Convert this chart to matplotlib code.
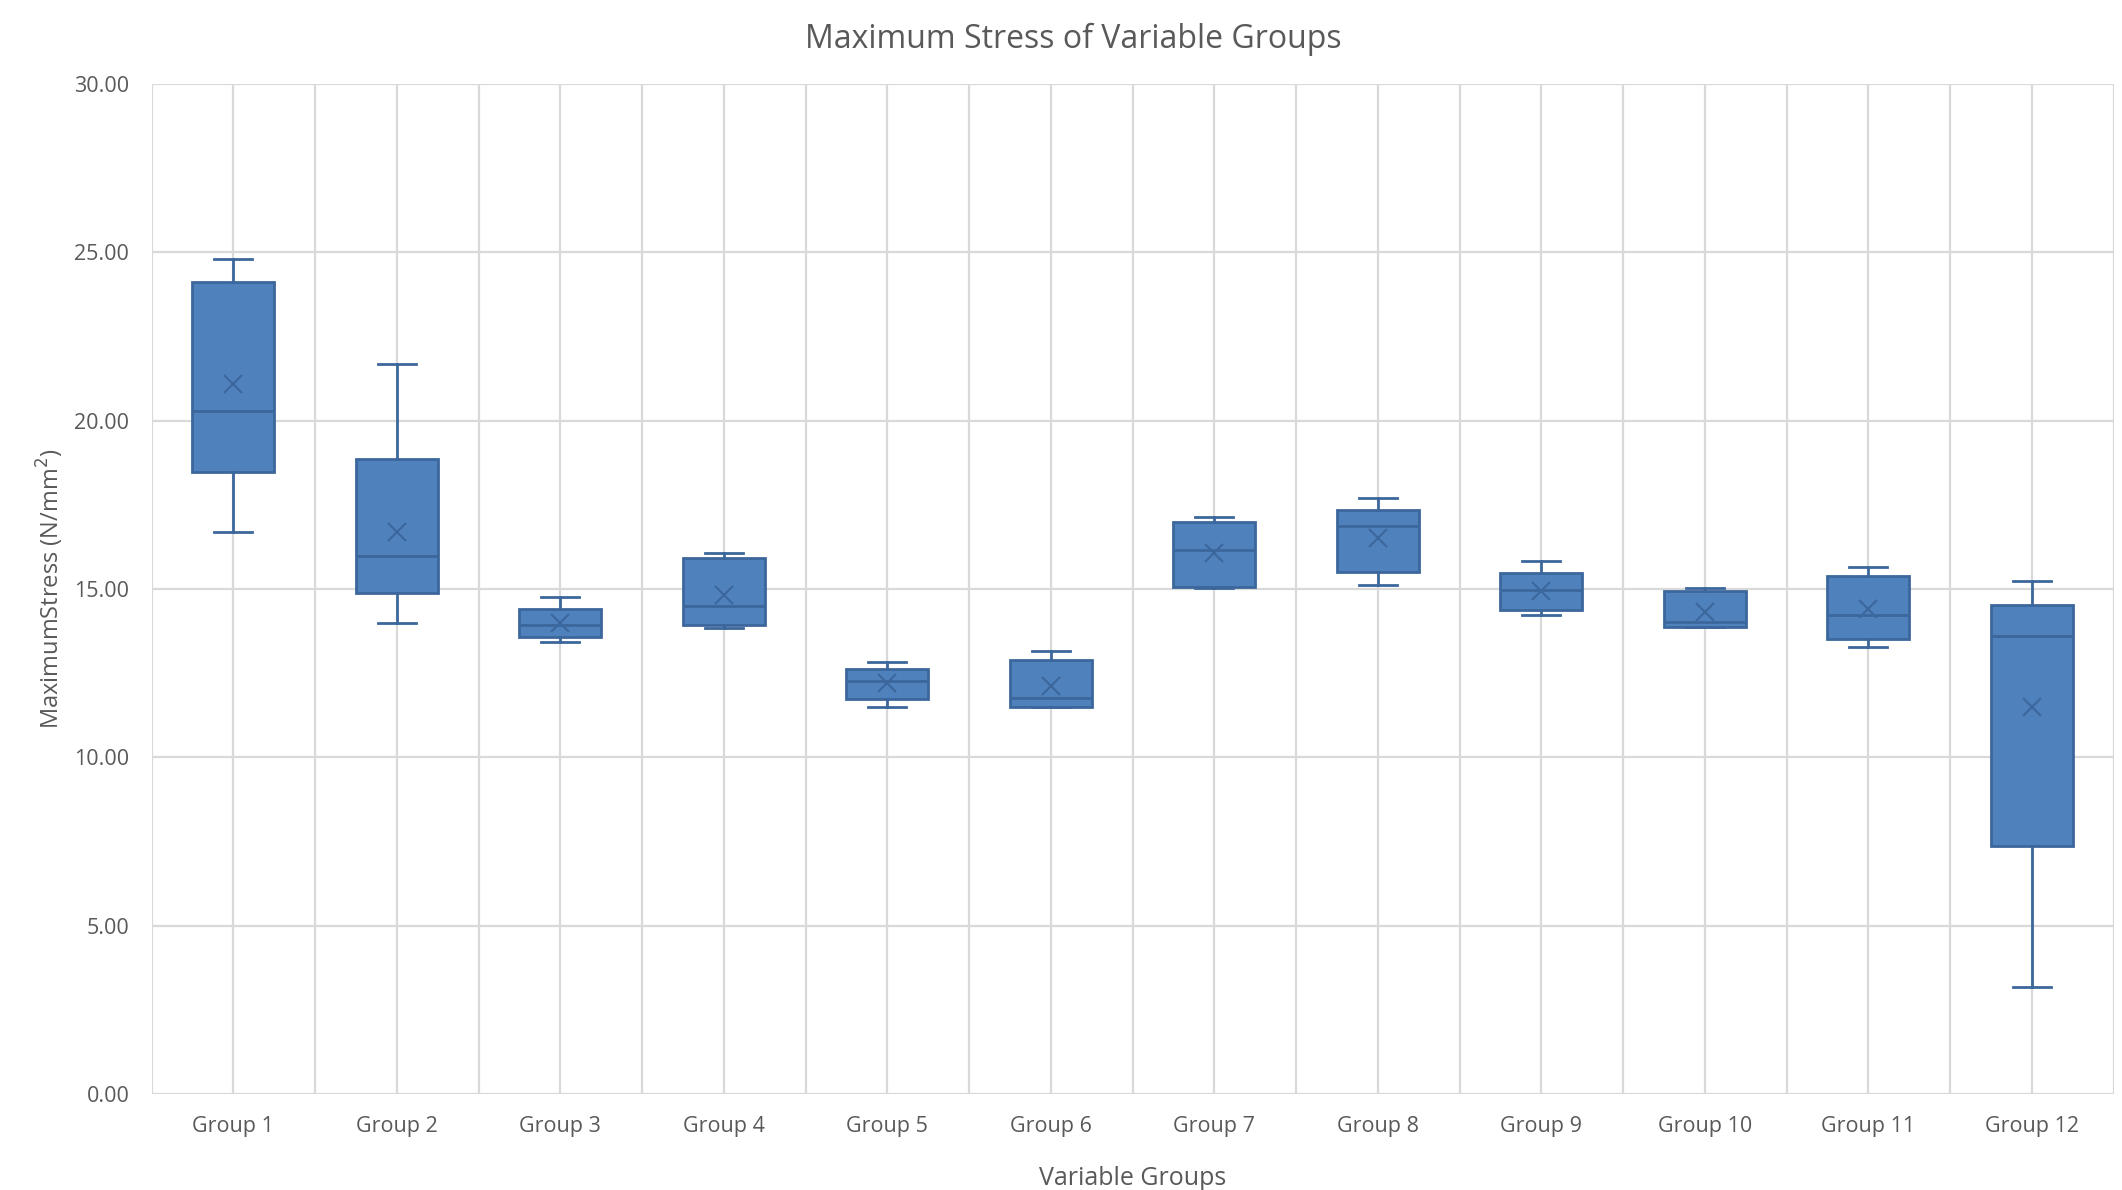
import matplotlib
matplotlib.use('Agg')
import matplotlib.pyplot as plt
import numpy as np

# values (N/mm^2)
groups = ['Group 1', 'Group 2', 'Group 3', 'Group 4', 'Group 5', 'Group 6',
          'Group 7', 'Group 8', 'Group 9', 'Group 10', 'Group 11', 'Group 12']
whisker_low = [16.70, 14.00, 13.43, 13.84, 11.49, 11.49, 15.02, 15.11, 14.22, 13.86, 13.27, 3.17]
q1 = [18.47, 14.89, 13.57, 13.92, 11.73, 11.49, 15.05, 15.51, 14.39, 13.88, 13.51, 7.36]
median = [20.30, 15.99, 13.93, 14.50, 12.26, 11.77, 16.17, 16.88, 14.98, 14.02, 14.22, 13.60]
q3 = [24.11, 18.86, 14.41, 15.91, 12.62, 12.90, 17.00, 17.36, 15.48, 14.95, 15.40, 14.53]
whisker_high = [24.80, 21.67, 14.76, 16.07, 12.84, 13.17, 17.15, 17.71, 15.84, 15.03, 15.65, 15.23]
mean = [21.08, 16.70, 13.98, 14.83, 12.21, 12.11, 16.06, 16.51, 14.95, 14.33, 14.42, 11.49]

y_ticks = [0, 5, 10, 15, 20, 25, 30]

fill_color = '#4F81BD'
edge_color = '#3C679C'
text_color = '#595959'
grid_color = '#D9D9D9'

plt.rcParams['font.family'] = ['Open Sans', 'DejaVu Sans']

fig = plt.figure(figsize=(21.22, 11.9), dpi=100)
ax = fig.add_axes([0.0714, 0.0807, 0.9246, 0.8487])

stats = []
for i in range(len(groups)):
    stats.append({'label': groups[i], 'whislo': whisker_low[i], 'q1': q1[i],
                  'med': median[i], 'q3': q3[i], 'whishi': whisker_high[i],
                  'mean': mean[i], 'fliers': []})

positions = np.arange(1, len(groups) + 1)
ax.bxp(stats, positions=positions, widths=0.5, patch_artist=True, showmeans=True,
       showfliers=False,
       boxprops=dict(facecolor=fill_color, edgecolor=edge_color, linewidth=2.0),
       medianprops=dict(color=edge_color, linewidth=2.0),
       whiskerprops=dict(color=edge_color, linewidth=2.0),
       capprops=dict(color=edge_color, linewidth=2.0),
       capwidths=0.23,
       meanprops=dict(marker='x', markeredgecolor=edge_color, markersize=13,
                      markeredgewidth=1.5),
       zorder=3)

# grid: horizontal at ticks, vertical every half category
ax.set_xlim(0.5, len(groups) + 0.5)
ax.set_ylim(0, 30)
for xg in np.arange(0.5, len(groups) + 0.75, 0.5):
    ax.axvline(xg, color=grid_color, linewidth=1.6, zorder=0)
for yg in y_ticks:
    ax.axhline(yg, color=grid_color, linewidth=1.6, zorder=0)

ax.set_xticks(positions)
ax.set_xticklabels(groups)
ax.set_yticks(y_ticks)
ax.set_yticklabels(['{:.2f}'.format(v) for v in y_ticks])
ax.tick_params(axis='both', length=0, labelsize=15.5, colors=text_color)
ax.tick_params(axis='x', pad=16)
ax.tick_params(axis='y', pad=16)
for s in ax.spines.values():
    s.set_visible(False)

ax.set_xlabel('Variable Groups', fontsize=18, color=text_color, labelpad=21)
ax.set_ylabel('MaximumStress (N/mm$^2$)', fontsize=17, color=text_color, labelpad=6)
fig.text(0.506, 0.967, 'Maximum Stress of Variable Groups', ha='center', va='center',
         fontsize=23, color=text_color)

plt.savefig('out.png', dpi=100)
